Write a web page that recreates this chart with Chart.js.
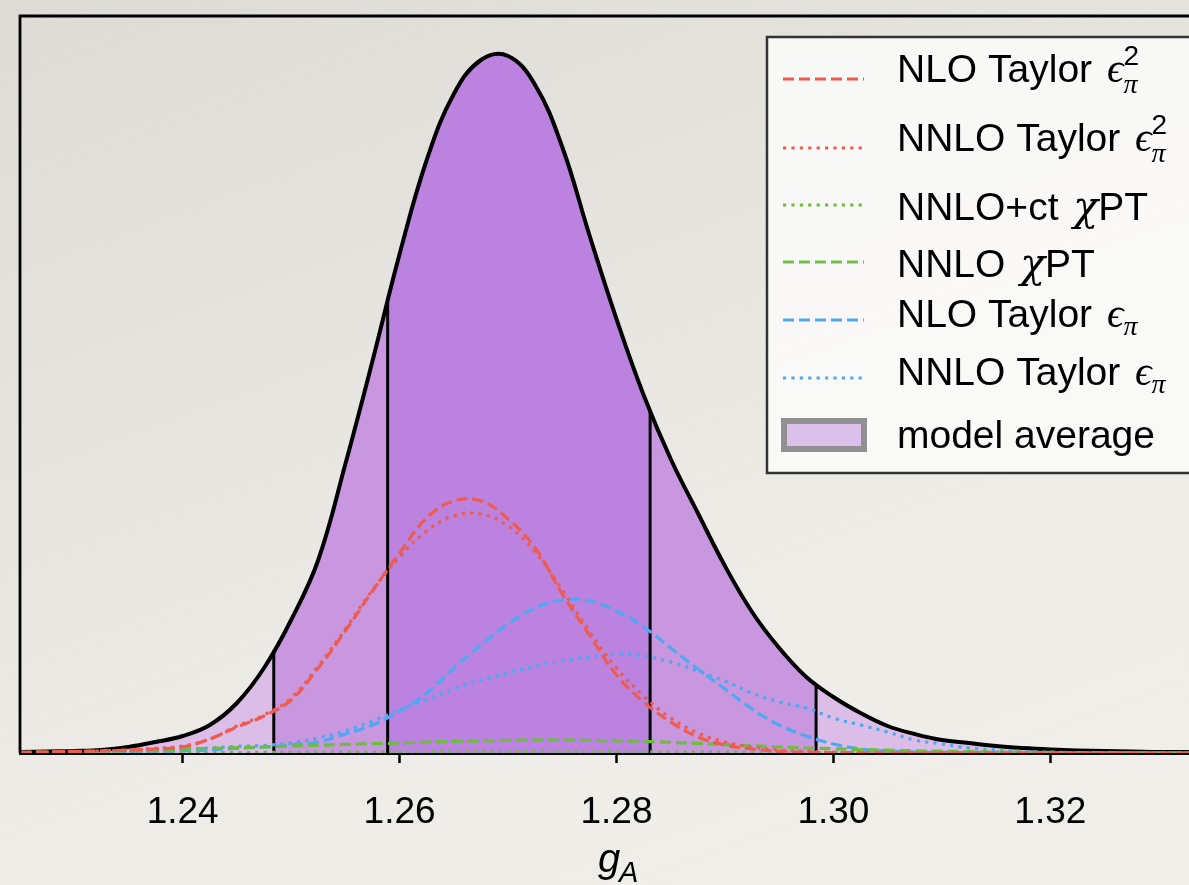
<!DOCTYPE html>
<html><head><meta charset="utf-8">
<script src="https://cdn.jsdelivr.net/npm/chart.js@4.4.1/dist/chart.umd.min.js"></script>
<style>
html,body{margin:0;padding:0;overflow:hidden;width:1189px;height:885px;}
body{background:linear-gradient(160deg,#dedbd6 0%,#e6e4df 35%,#eeece7 65%,#f1efea 100%);}
#wrap{position:absolute;left:0;top:0;width:1240px;height:885px;}
</style></head><body>
<div id="wrap"><canvas id="c" width="1240" height="885"></canvas></div>
<script>
// ---- data (g_A grid, densities) ----
const gA = [1.2250,1.2275,1.2300,1.2325,1.2350,1.2375,1.2400,1.2425,1.2450,1.2475,1.2500,1.2525,1.2550,1.2575,1.2600,1.2625,1.2650,1.2675,1.2700,1.2725,1.2750,1.2775,1.2800,1.2825,1.2850,1.2875,1.2900,1.2925,1.2950,1.2975,1.3000,1.3025,1.3050,1.3075,1.3100,1.3125,1.3150,1.3175,1.3200,1.3225,1.3250,1.3275,1.3300,1.3325,1.3350];
const modelAverage = [0.05,0.08,0.10,0.15,0.30,0.55,0.85,1.40,2.50,4.25,6.65,9.65,14.45,19.60,24.95,29.65,32.95,34.65,34.85,33.40,30.30,25.90,21.70,17.90,14.70,12.00,9.35,7.05,5.25,3.80,2.80,2.00,1.35,0.95,0.65,0.50,0.35,0.25,0.18,0.13,0.10,0.08,0.05,0.05,0.03];
const nloTaylorEps2 = [0.03,0.05,0.08,0.10,0.15,0.20,0.30,0.70,1.30,1.85,2.65,4.25,6.10,8.10,10.00,11.75,12.60,12.60,11.70,10.25,7.95,5.90,3.90,2.55,1.55,0.80,0.40,0.20,0.08,0.03,0.02,0.01,0,0,0,0,0,0,0,0,0,0,0,0,0];
const nnloTaylorEps2 = [0.03,0.05,0.08,0.10,0.15,0.23,0.35,0.70,1.35,1.90,2.75,4.35,6.20,8.15,9.80,11.10,11.85,11.95,11.35,10.05,8.15,6.10,4.25,2.85,1.75,1.00,0.55,0.30,0.15,0.08,0.04,0.02,0.01,0,0,0,0,0,0,0,0,0,0,0,0];
const nnloCtChiPT = [0,0,0,0,0.01,0.01,0.01,0.02,0.02,0.03,0.03,0.04,0.04,0.05,0.05,0.05,0.06,0.06,0.06,0.06,0.06,0.06,0.06,0.05,0.05,0.05,0.04,0.04,0.03,0.03,0.02,0.02,0.02,0.01,0.01,0.01,0,0,0,0,0,0,0,0,0];
const nnloChiPT = [0.03,0.05,0.07,0.09,0.13,0.16,0.20,0.23,0.27,0.30,0.35,0.39,0.43,0.47,0.50,0.55,0.58,0.60,0.63,0.65,0.65,0.63,0.61,0.58,0.53,0.48,0.42,0.36,0.30,0.25,0.21,0.17,0.14,0.11,0.09,0.07,0.05,0.04,0.03,0.02,0.02,0.01,0.01,0.01,0];
const nloTaylorEps = [0,0.01,0.02,0.03,0.04,0.06,0.10,0.15,0.23,0.30,0.40,0.55,0.95,1.40,2.10,3.00,4.25,5.40,6.45,7.25,7.65,7.60,7.10,6.30,5.25,4.20,3.20,2.20,1.40,0.85,0.45,0.20,0.10,0.05,0.03,0.02,0.01,0.01,0,0,0,0,0,0,0];
const nnloTaylorEps = [0.01,0.02,0.04,0.05,0.08,0.13,0.18,0.25,0.33,0.38,0.50,0.75,1.10,1.60,2.15,2.65,3.20,3.65,4.00,4.35,4.60,4.80,4.95,4.85,4.55,4.10,3.60,3.00,2.55,2.25,1.75,1.40,1.05,0.65,0.45,0.25,0.15,0.08,0.04,0.02,0.01,0.01,0,0,0];
const interval68 = [1.2589, 1.2831];
const interval95 = [1.2484, 1.2984];
const xTicks = [1.24, 1.26, 1.28, 1.30, 1.32];
const seriesLabels = ['NLO Taylor $ϵ_π^2$','NNLO Taylor $ϵ_π^2$','NNLO+ct $χ$PT','NNLO $χ$PT','NLO Taylor $ϵ_π$','NNLO Taylor $ϵ_π$','model average'];

// ---- styling ----
const RED='#ee5c50', GREEN='#6cbd42', BLUE='#4ea8f2';
const DASH=[11,5], DOT=[3.2,5.2];
const SANS='"Liberation Sans", Arial, sans-serif';
const MATH='"Liberation Serif", "DejaVu Serif", serif';
const MATH_CHI='"DejaVu Serif", serif';
const pts = arr => gA.map((x,i)=>({x, y: arr[i]}));

function bandFill(context){
  const chart = context.chart; const ca = chart.chartArea;
  if(!ca) return '#bb82e0';
  const xs = chart.scales.x; const w = ca.right-ca.left;
  const f = v => Math.min(1,Math.max(0,(xs.getPixelForValue(v)-ca.left)/w));
  const g = chart.ctx.createLinearGradient(ca.left,0,ca.right,0);
  const OUT='#dbbde8', MID='#c897e0', IN='#bb82e0';
  g.addColorStop(0,OUT); g.addColorStop(f(interval95[0]),OUT);
  g.addColorStop(f(interval95[0]),MID); g.addColorStop(f(interval68[0]),MID);
  g.addColorStop(f(interval68[0]),IN); g.addColorStop(f(interval68[1]),IN);
  g.addColorStop(f(interval68[1]),MID); g.addColorStop(f(interval95[1]),MID);
  g.addColorStop(f(interval95[1]),OUT); g.addColorStop(1,OUT);
  return g;
}

const comp = (label,data,color,dash)=>({label,data:pts(data),borderColor:color,borderWidth:3.2,borderDash:dash,fill:false,pointRadius:0,tension:0.4,order:1});

const datasets = [
  comp(seriesLabels[0], nloTaylorEps2, RED, DASH),
  comp(seriesLabels[1], nnloTaylorEps2, RED, DOT),
  comp(seriesLabels[2], nnloCtChiPT, GREEN, DOT),
  comp(seriesLabels[3], nnloChiPT, GREEN, DASH),
  comp(seriesLabels[4], nloTaylorEps, BLUE, DASH),
  comp(seriesLabels[5], nnloTaylorEps, BLUE, DOT),
  {label:seriesLabels[6], data:pts(modelAverage), borderColor:'#000', borderWidth:4, fill:'origin', backgroundColor:bandFill, pointRadius:0, tension:0.4, order:10}
];

const intervalLines = {
  id:'intervalLines',
  afterDatasetDraw(chart,args){
    if(args.index!==6) return;
    const c=chart.ctx, xs=chart.scales.x, ys=chart.scales.y, line=args.meta.dataset;
    c.save(); c.strokeStyle='#000'; c.lineWidth=3;
    [interval95[0],interval68[0],interval68[1],interval95[1]].forEach(v=>{
      const px=xs.getPixelForValue(v);
      const p=line.interpolate({x:px},'x');
      if(!p) return;
      c.beginPath(); c.moveTo(px,ys.getPixelForValue(0)); c.lineTo(px,p.y); c.stroke();
    });
    c.restore();
  }
};

function drawRich(c, str, x, y, size){
  const parts=str.split('$');
  const mSize=size+2, subSize=Math.round(size*0.72);
  const hasSup=str.indexOf('^')>=0;
  c.textBaseline='alphabetic'; c.textAlign='left';
  parts.forEach((p,i)=>{
    if(i%2===0){ c.font=size+'px '+SANS; c.fillText(p,x,y); x+=c.measureText(p).width; return; }
    let j=0;
    while(j<p.length){
      const ch=p[j];
      if(ch==='_'||ch==='^'){
        let subW=0,supW=0; let k=j;
        while(k<p.length && (p[k]==='_'||p[k]==='^')){
          const t=p[k+1];
          if(p[k]==='_'){ c.font='italic '+subSize+'px '+MATH; c.fillText(t,x,y+(hasSup?11:8)); subW=c.measureText(t).width; }
          else { c.font=subSize+'px '+SANS; c.fillText(t,x,y-17); supW=c.measureText(t).width; }
          k+=2;
        }
        x+=Math.max(subW,supW)+1; j=k;
      } else {
        c.font='italic '+mSize+'px '+(ch==='χ'?MATH_CHI:MATH); c.fillText(ch,x+4,y); x+=c.measureText(ch).width+4; j++;
      }
    }
  });
}

const frameAndLegend = {
  id:'frameAndLegend',
  afterDraw(chart){
    const c=chart.ctx, ca=chart.chartArea;
    c.save();
    // frame
    c.strokeStyle='#000'; c.lineWidth=2.8;
    c.beginPath(); c.moveTo(ca.left,ca.bottom); c.lineTo(ca.left,ca.top); c.lineTo(ca.right,ca.top); c.lineTo(ca.right,ca.bottom); c.stroke();
    // axis title g_A
    c.fillStyle='#000'; c.textBaseline='alphabetic'; c.textAlign='left';
    c.font='italic 40px '+SANS; c.fillText('g',598,872);
    c.font='italic 29px '+SANS; c.fillText('A',619,882);
    // legend box
    c.fillStyle='rgba(250,250,248,0.92)'; c.strokeStyle='#333'; c.lineWidth=2.5;
    c.fillRect(767,37,450,436); c.strokeRect(767,37,450,436);
    const handleY=[79,148,205,262,320,378];
    const baseY=[82,151,220,277,327,385];
    for(let i=0;i<6;i++){
      const ds=chart.data.datasets[i];
      c.strokeStyle=ds.borderColor; c.lineWidth=3; c.setLineDash(ds.borderDash);
      c.beginPath(); c.moveTo(783,handleY[i]); c.lineTo(864,handleY[i]); c.stroke();
      c.setLineDash([]);
      c.fillStyle='#000';
      drawRich(c, ds.label, 897, baseY[i], 39);
    }
    // model average patch
    c.fillStyle='#dcc0ec'; c.fillRect(784,421,80,28);
    c.strokeStyle='#909090'; c.lineWidth=6; c.strokeRect(784,421,80,28);
    c.fillStyle='#000'; drawRich(c, chart.data.datasets[6].label, 897, 448, 39);
    c.restore();
  }
};

new Chart(document.getElementById('c'),{
  type:'line',
  data:{datasets},
  options:{
    responsive:false, animation:false, devicePixelRatio:1,
    layout:{padding:{left:20,top:16,right:27,bottom:0}},
    plugins:{legend:{display:false},tooltip:{enabled:false}},
    elements:{point:{radius:0}},
    scales:{
      x:{type:'linear',min:1.225,max:1.335,
        afterBuildTicks:s=>{s.ticks=xTicks.map(v=>({value:v}));},
        afterFit:s=>{s.height=132;},
        grid:{display:true,drawOnChartArea:false,drawTicks:true,tickLength:10,tickWidth:2.5,tickColor:'#000'},
        border:{display:true,color:'#000',width:3},
        ticks:{font:{family:SANS,size:37},color:'#000',padding:28,maxRotation:0,autoSkip:false,callback:v=>v.toFixed(2)}
      },
      y:{display:false,min:0,max:36.85}
    }
  },
  plugins:[intervalLines,frameAndLegend]
});
</script>
</body></html>
